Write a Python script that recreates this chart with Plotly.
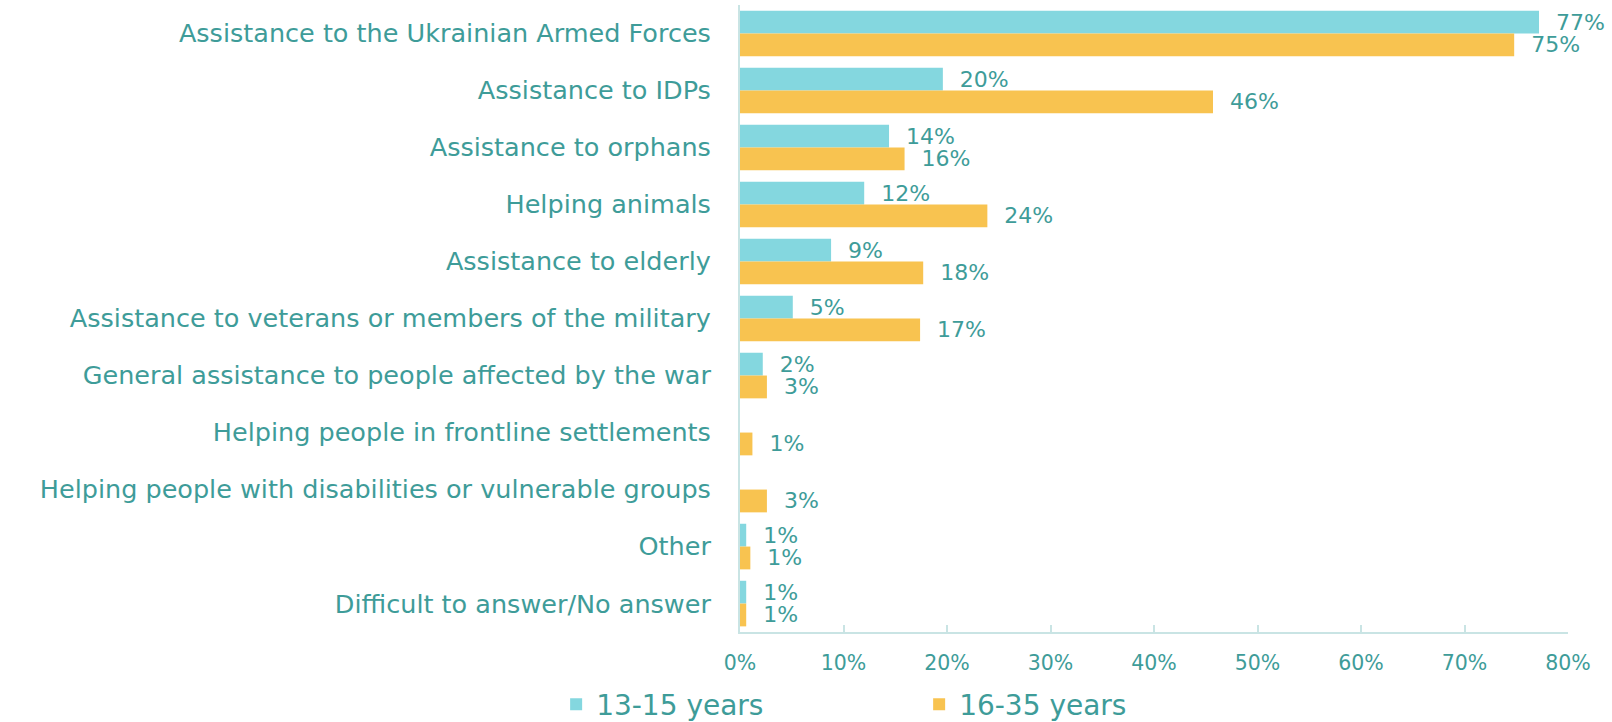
import plotly.graph_objects as go

categories = [
    "Assistance to the Ukrainian Armed Forces",
    "Assistance to IDPs",
    "Assistance to orphans",
    "Helping animals",
    "Assistance to elderly",
    "Assistance to veterans or members of the military",
    "General assistance to people affected by the war",
    "Helping people in frontline settlements",
    "Helping people with disabilities or vulnerable groups",
    "Other",
    "Difficult to answer/No answer",
]
teen_13_15 = [77.2, 19.6, 14.4, 12.0, 8.8, 5.1, 2.2, 0, 0, 0.6, 0.6]
youth_16_35 = [74.8, 45.7, 15.9, 23.9, 17.7, 17.4, 2.6, 1.2, 2.6, 1.0, 0.6]
series_names = ["13-15 years", "16-35 years"]
tick_vals = [0, 10, 20, 30, 40, 50, 60, 70, 80]
tick_text = ["0%", "10%", "20%", "30%", "40%", "50%", "60%", "70%", "80%"]

TEAL = "#84d7df"
YELLOW = "#f8c350"
TXT = "#3e9c99"
AXIS = "#c9e4e4"
FONT = "DejaVu Sans"
PAD = "\u00a0\u00a0"


def labels(vals):
    return [(PAD + f"{round(v)}%") if v > 0 else "" for v in vals]


fig = go.Figure()
for name, vals, col in [(series_names[0], teen_13_15, TEAL), (series_names[1], youth_16_35, YELLOW)]:
    fig.add_trace(go.Bar(
        y=categories, x=vals, name=name, orientation="h",
        marker=dict(color=col, line=dict(width=0)),
        text=labels(vals), textposition="outside", cliponaxis=False,
        constraintext="none",
        textfont=dict(family=FONT, size=22, color=TXT),
        hoverinfo="skip",
    ))

fig.update_layout(
    width=1612, height=722,
    margin=dict(l=740, r=44, t=5, b=87),
    barmode="group", bargap=0.2, bargroupgap=0,
    plot_bgcolor="white", paper_bgcolor="white",
    font=dict(family=FONT, color=TXT),
    xaxis=dict(
        range=[0, 80], tickvals=tick_vals, ticktext=tick_text,
        showgrid=False, zeroline=False,
        showline=True, linecolor=AXIS, linewidth=2,
        ticks="inside", ticklen=7, tickcolor=AXIS, tickwidth=2,
        tickfont=dict(family=FONT, size=20.5, color=TXT),
        ticklabelstandoff=11,
    ),
    yaxis=dict(
        autorange="reversed", showgrid=False, zeroline=False,
        showline=True, linecolor=AXIS, linewidth=2,
        ticks="", tickfont=dict(family=FONT, size=25.5, color=TXT),
        ticklabelstandoff=22,
    ),
    legend=dict(
        orientation="h", xref="container", yref="container",
        x=0.345, xanchor="left", y=0.024, yanchor="middle",
        font=dict(family=FONT, size=28, color=TXT),
        entrywidth=318, entrywidthmode="pixels",
    ),
)

fig.write_html(
    "out.html",
    config={"displayModeBar": False},
    post_script="document.body.style.margin='0';document.body.style.overflow='hidden';",
)
